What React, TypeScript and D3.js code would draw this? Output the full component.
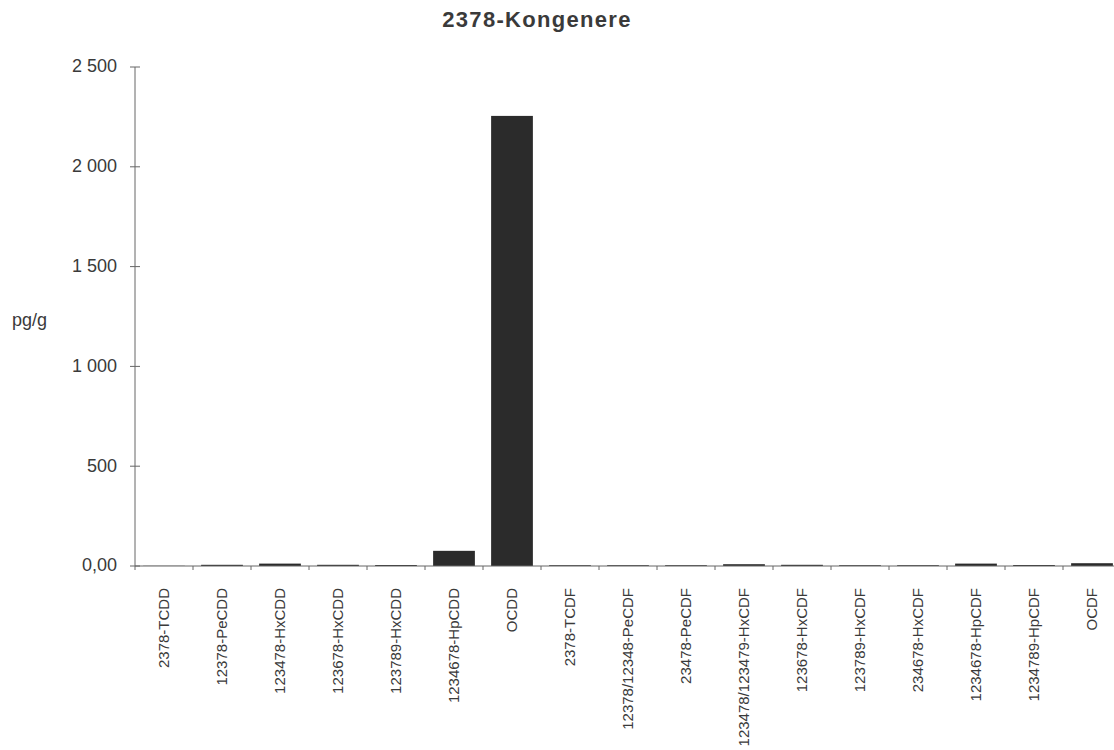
import React, { useEffect, useRef } from 'react';
import * as d3 from 'd3';

// Kongener names in chart order
const congeners: string[] = [
  '2378-TCDD',
  '12378-PeCDD',
  '123478-HxCDD',
  '123678-HxCDD',
  '123789-HxCDD',
  '1234678-HpCDD',
  'OCDD',
  '2378-TCDF',
  '12378/12348-PeCDF',
  '23478-PeCDF',
  '123478/123479-HxCDF',
  '123678-HxCDF',
  '123789-HxCDF',
  '234678-HxCDF',
  '1234678-HpCDF',
  '1234789-HpCDF',
  'OCDF',
];

// pg/g
const values: number[] = [1, 6, 12, 6, 5, 76, 2255, 4, 4, 4, 9, 6, 4, 4, 12, 5, 14];

const yTicks: number[] = [0, 500, 1000, 1500, 2000, 2500];
const yTickLabels: string[] = ['0,00', '500', '1 000', '1 500', '2 000', '2 500'];

const WIDTH = 1114;
const HEIGHT = 750;
const FONT = '"Liberation Sans", Arial, sans-serif';

const App = () => {
  const svgRef = useRef<SVGSVGElement>(null);

  useEffect(() => {
    const svg = d3.select(svgRef.current);
    svg.selectAll('*').remove();

    const x0 = 135;
    const y0 = 566;

    const xScale = d3
      .scaleBand<string>()
      .domain(congeners)
      .range([x0, x0 + 58 * congeners.length])
      .paddingInner(0.28)
      .paddingOuter(0.14);

    const yScale = d3.scaleLinear().domain([0, 2500]).range([y0, 67]);

    // Title
    svg
      .append('text')
      .attr('x', 537)
      .attr('y', 27)
      .attr('text-anchor', 'middle')
      .style('font-family', FONT)
      .style('font-size', '22px')
      .style('font-weight', 'bold')
      .style('letter-spacing', '1.3px')
      .style('fill', '#3a3a3a')
      .text('2378-Kongenere');

    // Y unit
    svg
      .append('text')
      .attr('x', 12)
      .attr('y', 326)
      .style('font-family', FONT)
      .style('font-size', '18px')
      .style('fill', '#3a3a3a')
      .text('pg/g');

    // Bars
    svg
      .append('g')
      .selectAll('rect')
      .data(values)
      .enter()
      .append('rect')
      .attr('x', (d, i) => xScale(congeners[i]) as number)
      .attr('y', d => yScale(d))
      .attr('width', xScale.bandwidth())
      .attr('height', d => y0 - yScale(d))
      .attr('fill', '#2b2b2b');

    // Y axis
    const yAxis = svg.append('g');
    yAxis
      .append('line')
      .attr('x1', x0)
      .attr('x2', x0)
      .attr('y1', yScale(2500))
      .attr('y2', y0)
      .attr('stroke', '#666')
      .attr('stroke-width', 1);

    yAxis
      .selectAll('.tick')
      .data(yTicks)
      .enter()
      .append('line')
      .attr('x1', x0 - 5)
      .attr('x2', x0 + 5)
      .attr('y1', d => yScale(d))
      .attr('y2', d => yScale(d))
      .attr('stroke', '#666');

    yAxis
      .selectAll('.label')
      .data(yTicks)
      .enter()
      .append('text')
      .attr('x', 117)
      .attr('y', d => yScale(d))
      .attr('dy', '0.3em')
      .attr('text-anchor', 'end')
      .style('font-family', FONT)
      .style('font-size', '18px')
      .style('fill', '#3a3a3a')
      .text((d, i) => yTickLabels[i]);

    // X axis
    const xAxis = svg.append('g');
    xAxis
      .append('line')
      .attr('x1', x0)
      .attr('x2', WIDTH)
      .attr('y1', y0)
      .attr('y2', y0)
      .attr('stroke', '#666')
      .attr('stroke-width', 1);

    xAxis
      .selectAll('.tick')
      .data(congeners)
      .enter()
      .append('line')
      .attr('x1', d => (xScale(d) as number) - xScale.step() * 0.14)
      .attr('x2', d => (xScale(d) as number) - xScale.step() * 0.14)
      .attr('y1', y0)
      .attr('y2', y0 + 4)
      .attr('stroke', '#666');

    xAxis
      .selectAll('.label')
      .data(congeners)
      .enter()
      .append('text')
      .attr('transform', d => {
        const cx = (xScale(d) as number) + xScale.bandwidth() / 2;
        return `translate(${cx},588) rotate(-90)`;
      })
      .attr('dy', '0.35em')
      .attr('text-anchor', 'end')
      .style('font-family', FONT)
      .style('font-size', '15px')
      .style('fill', '#3a3a3a')
      .text(d => d);
  }, []);

  return (
    <div style={{ position: 'absolute', left: 0, top: 0 }}>
      <svg ref={svgRef} width={WIDTH} height={HEIGHT} style={{ display: 'block', background: '#fff' }}></svg>
    </div>
  );
};

export default App;
